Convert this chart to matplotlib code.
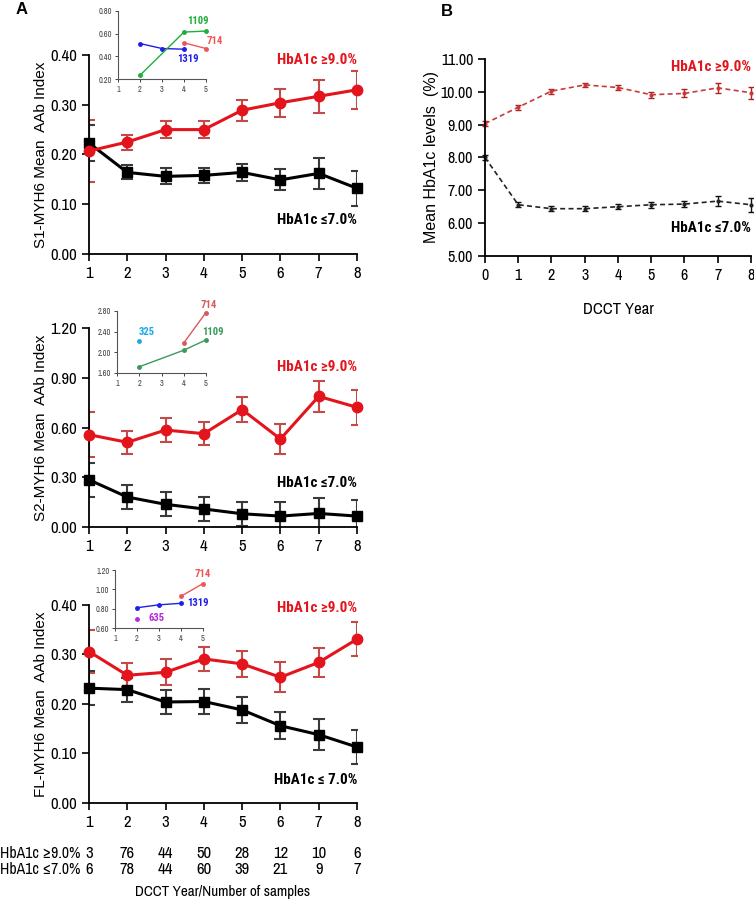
import matplotlib
matplotlib.use("Agg")
import matplotlib.pyplot as plt
from matplotlib import transforms, font_manager
from matplotlib.ticker import FormatStrFormatter

plt.rcParams['font.family'] = ['Liberation Sans', 'DejaVu Sans']

# ---- data ----
years = [1, 2, 3, 4, 5, 6, 7, 8]

s1_hi = [0.207, 0.225, 0.250, 0.250, 0.289, 0.304, 0.317, 0.330]
s1_hi_err = [0.062, 0.015, 0.017, 0.017, 0.021, 0.028, 0.033, 0.038]
s1_lo = [0.223, 0.164, 0.156, 0.158, 0.164, 0.149, 0.162, 0.132]
s1_lo_err = [0.037, 0.014, 0.016, 0.015, 0.017, 0.021, 0.031, 0.035]

s2_hi = [0.557, 0.511, 0.585, 0.563, 0.708, 0.531, 0.788, 0.722]
s2_hi_err = [0.135, 0.068, 0.072, 0.071, 0.077, 0.092, 0.092, 0.107]
s2_lo = [0.285, 0.181, 0.137, 0.109, 0.080, 0.066, 0.082, 0.066]
s2_lo_err = [0.104, 0.070, 0.072, 0.070, 0.072, 0.087, 0.093, 0.099]

fl_hi = [0.306, 0.258, 0.264, 0.291, 0.281, 0.254, 0.284, 0.331]
fl_hi_err = [0.043, 0.024, 0.026, 0.025, 0.026, 0.030, 0.030, 0.035]
fl_lo = [0.232, 0.229, 0.204, 0.205, 0.188, 0.156, 0.138, 0.113]
fl_lo_err = [0.034, 0.024, 0.025, 0.025, 0.026, 0.027, 0.031, 0.034]

n_hi = [3, 76, 44, 50, 28, 12, 10, 6]
n_lo = [6, 78, 44, 60, 39, 21, 9, 7]

b_years = [0, 1, 2, 3, 4, 5, 6, 7, 8]
b_hi = [9.03, 9.53, 10.02, 10.21, 10.13, 9.91, 9.95, 10.12, 9.97]
b_hi_err = [0.07, 0.07, 0.08, 0.07, 0.08, 0.09, 0.12, 0.15, 0.18]
b_lo = [8.00, 6.56, 6.44, 6.44, 6.50, 6.56, 6.58, 6.67, 6.56]
b_lo_err = [0.08, 0.07, 0.08, 0.07, 0.08, 0.09, 0.10, 0.15, 0.22]

# insets: (label, x, y, colour)
ins_s1 = [("1319", [2, 3, 4], [0.513, 0.469, 0.463], '#1f1fe8'),
          ("1109", [2, 4, 5], [0.233, 0.614, 0.623], '#1fae3a'),
          ("714", [4, 5], [0.519, 0.469], '#f05555')]
ins_s2 = [("325", [2], [2.21], '#1ea8ea'),
          ("714", [4, 5], [2.18, 2.77], '#d85a5a'),
          ("1109", [2, 4, 5], [1.72, 2.04, 2.24], '#3a9a5c')]
ins_fl = [("1319", [2, 3, 4], [0.81, 0.84, 0.856], '#1f1fe8'),
          ("714", [4, 5], [0.929, 1.06], '#f05555'),
          ("635", [2], [0.69], '#b52ad8')]

RED = '#e3141b'
RED_ERR = '#c44a4a'
BLK = '#000000'
BLK_ERR = '#3a3a3a'


# narrow fonts (the figure uses an Arial Narrow look)
def _w(f):
    try:
        return int(f.weight)
    except (TypeError, ValueError):
        return 700 if 'bold' in str(f.weight) else 400


def pick_family(prefs, bold):
    for name in prefs:
        for f in font_manager.fontManager.ttflist:
            if f.name != name:
                continue
            if name == 'DejaVu Sans' and f.stretch != 'condensed':
                continue
            if (_w(f) >= 600) == bold:
                return name
    return 'DejaVu Sans'


NAR_B = ['Liberation Sans Narrow', 'Arial Narrow', 'Roboto Condensed', 'Archivo Narrow',
         'Barlow Semi Condensed', 'Encode Sans Condensed', 'DejaVu Sans']
NAR_R = ['Liberation Sans Narrow', 'Arial Narrow', 'Archivo Narrow', 'Roboto Condensed',
         'Barlow Semi Condensed', 'Encode Sans Condensed', 'DejaVu Sans']
BOLD = dict(family=[pick_family(NAR_B, True), 'DejaVu Sans'], fontweight='bold', fontstretch='condensed')
REG = dict(family=[pick_family(NAR_R, False), 'DejaVu Sans'], fontweight='normal', fontstretch='condensed')

fig = plt.figure(figsize=(7.54, 9.0), dpi=100)
renderer = fig.canvas.get_renderer()


def fit_size(s, props, target_px, base=10.0):
    t = fig.text(0, 0, s, fontsize=base, **props)
    w = t.get_window_extent(renderer=renderer).width
    t.remove()
    return base * target_px / w


ANN = fit_size("HbA1c \u22659.0%", BOLD, 80)
INS = fit_size("1109", BOLD, 21.5)
ROW = min(fit_size("HbA1c \u22659.0%", REG, 80), 12)
XLAB = min(fit_size("DCCT Year/Number of samples", REG, 176), 12)


def narrow_ticks(ax, size):
    for lbl in ax.get_xticklabels() + ax.get_yticklabels():
        lbl.set_family(REG['family'])
        lbl.set_stretch('condensed')
        lbl.set_fontsize(size)


def style(ax):
    for s in ['top', 'right']:
        ax.spines[s].set_visible(False)
    for s in ['left', 'bottom']:
        ax.spines[s].set_linewidth(1.3)
    ax.tick_params(direction='out', length=5, width=1.2)


def main_panel(rect, hi, hi_err, lo, lo_err, ymax, ystep, ylabel, hi_pos, lo_pos, lo_text):
    ax = fig.add_axes(rect)
    style(ax)
    ax.errorbar(years, lo, yerr=lo_err, color=BLK, ecolor=BLK_ERR, lw=2.2, elinewidth=1.5,
                capsize=4, capthick=1.5, fmt='none')
    ax.errorbar(years, hi, yerr=hi_err, color=RED, ecolor=RED_ERR, lw=2.2, elinewidth=1.5,
                capsize=4, capthick=1.5, fmt='none')
    ax.plot(years, lo, color=BLK, lw=2.2, marker='s', ms=7, clip_on=False, zorder=3)
    ax.plot(years, hi, color=RED, lw=2.2, marker='o', ms=7.5, clip_on=False, zorder=4)
    ax.set_xlim(1, 8)
    ax.set_ylim(0, ymax)
    ax.set_xticks(years)
    ax.set_yticks([ystep * i for i in range(5)])
    ax.yaxis.set_major_formatter(FormatStrFormatter('%.2f'))
    narrow_ticks(ax, 12)
    ax.set_ylabel(ylabel, fontsize=11, labelpad=2)
    ax.text(8, hi_pos, "HbA1c \u22659.0%", color=RED, fontsize=ANN, ha='right', va='center', **BOLD)
    ax.text(8, lo_pos, lo_text, color=BLK, fontsize=ANN, ha='right', va='center', **BOLD)
    return ax


def inset(rect, series, ylo, yhi, ystep, labels):
    ax = fig.add_axes(rect)
    for s in ['top', 'right']:
        ax.spines[s].set_visible(False)
    for s in ['left', 'bottom']:
        ax.spines[s].set_linewidth(0.8)
        ax.spines[s].set_color('#555555')
    ax.tick_params(direction='out', length=2.5, width=0.7, colors='#444444', pad=1.5)
    for (name, xs, ys, c) in series:
        ax.plot(xs, ys, color=c, lw=1.0, marker='o', ms=2.5, clip_on=False)
    for (name, lx, ly), (_, _, _, c) in zip(labels, series):
        ax.text(lx, ly, name, color=c, fontsize=INS, ha='center', va='center', **BOLD)
    ax.set_xlim(1, 5)
    ax.set_ylim(ylo, yhi)
    ax.set_xticks([1, 2, 3, 4, 5])
    n = int(round((yhi - ylo) / ystep))
    ax.set_yticks([ylo + ystep * i for i in range(n + 1)])
    ax.yaxis.set_major_formatter(FormatStrFormatter('%.2f'))
    narrow_ticks(ax, 6)
    ax.patch.set_alpha(0)
    return ax


ax1 = main_panel([0.118, 0.7178, 0.3555, 0.2211], s1_hi, s1_hi_err, s1_lo, s1_lo_err,
                 0.40, 0.10, "S1-MYH6 Mean  AAb Index", 0.39, 0.068, "HbA1c \u22647.0%")
ax2 = main_panel([0.118, 0.4144, 0.3555, 0.2211], s2_hi, s2_hi_err, s2_lo, s2_lo_err,
                 1.20, 0.30, "S2-MYH6 Mean  AAb Index", 0.965, 0.265, "HbA1c \u22647.0%")
ax3 = main_panel([0.118, 0.1078, 0.3555, 0.2200], fl_hi, fl_hi_err, fl_lo, fl_lo_err,
                 0.40, 0.10, "FL-MYH6 Mean  AAb Index", 0.394, 0.046, "HbA1c \u2264 7.0%")

inset([0.1565, 0.9122, 0.1167, 0.0756], ins_s1, 0.20, 0.80, 0.20,
      [("1319", 4.2, 0.38), ("1109", 4.64, 0.714), ("714", 5.4, 0.537)])
inset([0.1552, 0.5856, 0.1180, 0.0689], ins_s2, 1.60, 2.80, 0.40,
      [("325", 2.35, 2.40), ("714", 5.14, 2.92), ("1109", 5.3, 2.40)])
inset([0.1525, 0.3022, 0.1167, 0.0644], ins_fl, 0.60, 1.20, 0.20,
      [("1319", 4.77, 0.863), ("714", 5.0, 1.155), ("635", 2.9, 0.70)])

# number of samples table under bottom panel
trans = transforms.blended_transform_factory(ax3.transData, fig.transFigure)
for x, a, b in zip(years, n_hi, n_lo):
    ax3.text(x, 1 - 853 / 900, str(a), transform=trans, ha='center', va='center', fontsize=12, **REG)
    ax3.text(x, 1 - 869 / 900, str(b), transform=trans, ha='center', va='center', fontsize=12, **REG)
fig.text(0.0, 1 - 853 / 900, "HbA1c \u22659.0%", ha='left', va='center', fontsize=ROW, **REG)
fig.text(0.0, 1 - 869 / 900, "HbA1c \u22647.0%", ha='left', va='center', fontsize=ROW, **REG)
ax3.text(4.5, 1 - 892 / 900, "DCCT Year/Number of samples", transform=trans,
         ha='center', va='center', fontsize=XLAB, **REG)

# panel B
axb = fig.add_axes([0.6432, 0.7156, 0.3528, 0.2189])
style(axb)
axb.errorbar(b_years, b_hi, yerr=b_hi_err, color='#c8393b', ecolor='#b02020', lw=1.2, ls=(0, (3, 2)),
             elinewidth=1.0, capsize=2.5, capthick=1.0, marker='o', ms=2, clip_on=False)
axb.errorbar(b_years, b_lo, yerr=b_lo_err, color='#222222', ecolor='#111111', lw=1.2, ls=(0, (3, 2)),
             elinewidth=1.0, capsize=2.5, capthick=1.0, marker='o', ms=2, clip_on=False)
axb.set_xlim(0, 8)
axb.set_ylim(5, 11)
axb.set_xticks(b_years)
axb.set_yticks([5, 6, 7, 8, 9, 10, 11])
axb.yaxis.set_major_formatter(FormatStrFormatter('%.2f'))
narrow_ticks(axb, 11.5)
axb.set_ylabel("Mean HbA1c levels  (%)", fontsize=11.5, labelpad=1)
axb.set_xlabel("DCCT Year", fontsize=12, labelpad=14, **REG)
axb.text(8, 10.76, "HbA1c \u22659.0%", color=RED, fontsize=ANN, ha='right', va='center', **BOLD)
axb.text(8, 5.85, "HbA1c \u22647.0%", color=BLK, fontsize=ANN, ha='right', va='center', **BOLD)

fig.text(22 / 754, 1 - 9 / 900, "A", fontsize=12, fontweight='bold', ha='center', va='center')
fig.text(447 / 754, 1 - 11 / 900, "B", fontsize=12, fontweight='bold', ha='center', va='center')

fig.savefig("out.png", dpi=100)
